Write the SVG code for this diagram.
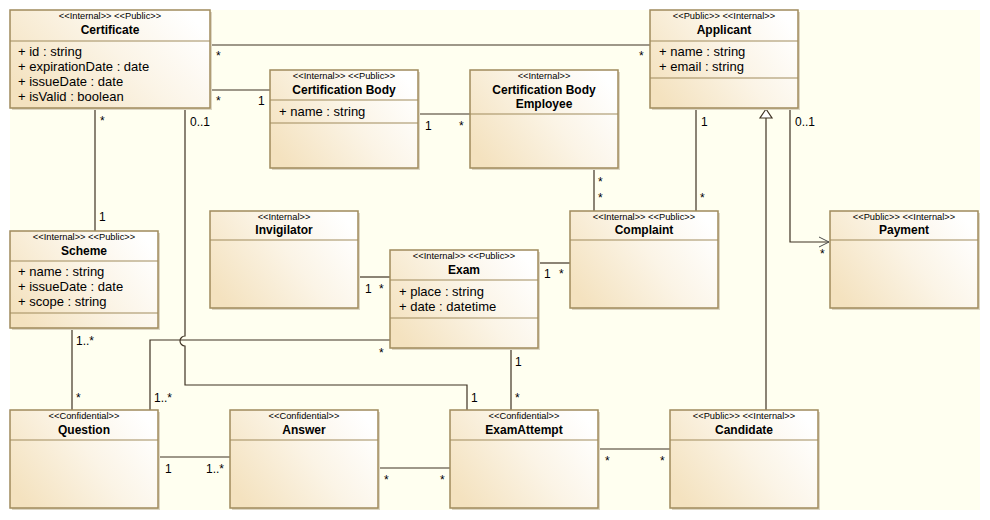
<svg xmlns="http://www.w3.org/2000/svg" width="990" height="520" viewBox="0 0 990 520">
<defs>
<linearGradient id="fill" x1="0" y1="0.75" x2="1" y2="0.25">
<stop offset="0" stop-color="#f4e2bf"/>
<stop offset="0.55" stop-color="#fbf4e6"/>
<stop offset="1" stop-color="#ffffff"/>
</linearGradient>
<marker id="open" markerWidth="14" markerHeight="12" refX="11" refY="6" orient="auto" markerUnits="userSpaceOnUse">
<path d="M1,1 L11,6 L1,11" fill="none" stroke="#4a4a4a" stroke-width="1"/>
</marker>
</defs>
<style>
.sh{fill:#ddd6c2}
.box{fill:url(#fill);stroke:#a08b5c;stroke-width:1.5}
.div{stroke:#a08b5c;stroke-width:1}
.st{font-family:"Liberation Sans",Arial,sans-serif;font-size:9.3px;fill:#000;text-anchor:middle}
.nm{font-family:"Liberation Sans",Arial,sans-serif;font-size:12px;font-weight:bold;fill:#000;text-anchor:middle}
.at{font-family:"Liberation Sans",Arial,sans-serif;font-size:13px;fill:#000}
.lb{font-family:"Liberation Sans",Arial,sans-serif;font-size:12px;fill:#000}
.ln{fill:none;stroke:#3f3223;stroke-width:1.2}
</style>
<rect x="0" y="0" width="990" height="520" fill="#ffffff"/>
<rect x="10" y="10" width="970" height="500" fill="#fffff0"/>

<g id="connectors">
<path class="ln" d="M210,45 H650"/>
<path class="ln" d="M210,90 H270"/>
<path class="ln" d="M420,114 H470"/>
<path class="ln" d="M95,108 V231"/>
<path class="ln" d="M185,108 V336 A5,5 0 0 0 185,346 V385 H467 V410"/>
<path class="ln" d="M150,410 V340 H390"/>
<path class="ln" d="M72,328 V410"/>
<path class="ln" d="M160,457 H230"/>
<path class="ln" d="M380,468 H450"/>
<path class="ln" d="M600,449 H670"/>
<path class="ln" d="M511,348 V410"/>
<path class="ln" d="M360,277 H390"/>
<path class="ln" d="M540,263 H570"/>
<path class="ln" d="M594,168 V211"/>
<path class="ln" d="M696,108 V211"/>
<path class="ln" d="M790,108 V242 H829" marker-end="url(#open)"/>
<path class="ln" d="M766,410 V118"/>
<path d="M766,109 L772,118 L760,118 Z" fill="#ffffff" stroke="#3f3223" stroke-width="1.2"/>
<text class="lb" x="216" y="60">*</text>
<text class="lb" x="639" y="60">*</text>
<text class="lb" x="216" y="105">*</text>
<text class="lb" x="258" y="105">1</text>
<text class="lb" x="425" y="130">1</text>
<text class="lb" x="459" y="130">*</text>
<text class="lb" x="100" y="125">*</text>
<text class="lb" x="99" y="221">1</text>
<text class="lb" x="190" y="126">0..1</text>
<text class="lb" x="471" y="402">1</text>
<text class="lb" x="154" y="402">1..*</text>
<text class="lb" x="379" y="357">*</text>
<text class="lb" x="76" y="345">1..*</text>
<text class="lb" x="76" y="402">*</text>
<text class="lb" x="165" y="473">1</text>
<text class="lb" x="206" y="473">1..*</text>
<text class="lb" x="384" y="484">*</text>
<text class="lb" x="440" y="484">*</text>
<text class="lb" x="605" y="465">*</text>
<text class="lb" x="660" y="465">*</text>
<text class="lb" x="515" y="366">1</text>
<text class="lb" x="515" y="402">*</text>
<text class="lb" x="365" y="293">1</text>
<text class="lb" x="379" y="293">*</text>
<text class="lb" x="544" y="278">1</text>
<text class="lb" x="559" y="278">*</text>
<text class="lb" x="598" y="186">*</text>
<text class="lb" x="598" y="202">*</text>
<text class="lb" x="701" y="126">1</text>
<text class="lb" x="700" y="202">*</text>
<text class="lb" x="795" y="126">0..1</text>
<text class="lb" x="820" y="258">*</text>
</g>

<g id="certificate">
<rect class="sh" x="12" y="12" width="200" height="98"/>
<rect class="box" x="10" y="10" width="200" height="98"/>
<text class="st" x="110" y="19">&lt;&lt;Internal&gt;&gt; &lt;&lt;Public&gt;&gt;</text>
<text class="nm" x="110" y="34">Certificate</text>
<line class="div" x1="10" y1="41" x2="210" y2="41"/>
<text class="at" x="18" y="56">+ id : string</text>
<text class="at" x="18" y="71">+ expirationDate : date</text>
<text class="at" x="18" y="86">+ issueDate : date</text>
<text class="at" x="18" y="101">+ isValid : boolean</text>
</g>

<g id="certification-body">
<rect class="sh" x="272" y="72" width="148" height="98"/>
<rect class="box" x="270" y="70" width="148" height="98"/>
<text class="st" x="344" y="79">&lt;&lt;Internal&gt;&gt; &lt;&lt;Public&gt;&gt;</text>
<text class="nm" x="344" y="94">Certification Body</text>
<line class="div" x1="270" y1="100" x2="418" y2="100"/>
<text class="at" x="279" y="116">+ name : string</text>
<line class="div" x1="270" y1="123" x2="418" y2="123"/>
</g>

<g id="certification-body-employee">
<rect class="sh" x="472" y="72" width="148" height="98"/>
<rect class="box" x="470" y="70" width="148" height="98"/>
<text class="st" x="544" y="79">&lt;&lt;Internal&gt;&gt;</text>
<text class="nm" x="544" y="94">Certification Body</text>
<text class="nm" x="544" y="108">Employee</text>
<line class="div" x1="470" y1="114" x2="618" y2="114"/>
</g>

<g id="applicant">
<rect class="sh" x="652" y="12" width="148" height="98"/>
<rect class="box" x="650" y="10" width="148" height="98"/>
<text class="st" x="724" y="19">&lt;&lt;Public&gt;&gt; &lt;&lt;Internal&gt;&gt;</text>
<text class="nm" x="724" y="34">Applicant</text>
<line class="div" x1="650" y1="41" x2="798" y2="41"/>
<text class="at" x="659" y="56">+ name : string</text>
<text class="at" x="659" y="71">+ email : string</text>
<line class="div" x1="650" y1="78" x2="798" y2="78"/>
</g>

<g id="scheme">
<rect class="sh" x="12" y="233" width="148" height="97"/>
<rect class="box" x="10" y="231" width="148" height="97"/>
<text class="st" x="84" y="240">&lt;&lt;Internal&gt;&gt; &lt;&lt;Public&gt;&gt;</text>
<text class="nm" x="84" y="255">Scheme</text>
<line class="div" x1="10" y1="261" x2="158" y2="261"/>
<text class="at" x="18" y="276">+ name : string</text>
<text class="at" x="18" y="291">+ issueDate : date</text>
<text class="at" x="18" y="306">+ scope : string</text>
<line class="div" x1="10" y1="313" x2="158" y2="313"/>
</g>

<g id="invigilator">
<rect class="sh" x="212" y="213" width="148" height="97"/>
<rect class="box" x="210" y="211" width="148" height="97"/>
<text class="st" x="284" y="220">&lt;&lt;Internal&gt;&gt;</text>
<text class="nm" x="284" y="234">Invigilator</text>
<line class="div" x1="210" y1="240" x2="358" y2="240"/>
</g>

<g id="exam">
<rect class="sh" x="392" y="252" width="148" height="98"/>
<rect class="box" x="390" y="250" width="148" height="98"/>
<text class="st" x="464" y="259">&lt;&lt;Internal&gt;&gt; &lt;&lt;Public&gt;&gt;</text>
<text class="nm" x="464" y="274">Exam</text>
<line class="div" x1="390" y1="280" x2="538" y2="280"/>
<text class="at" x="399" y="296">+ place : string</text>
<text class="at" x="399" y="311">+ date : datetime</text>
<line class="div" x1="390" y1="318" x2="538" y2="318"/>
</g>

<g id="complaint">
<rect class="sh" x="572" y="213" width="148" height="97"/>
<rect class="box" x="570" y="211" width="148" height="97"/>
<text class="st" x="644" y="220">&lt;&lt;Internal&gt;&gt; &lt;&lt;Public&gt;&gt;</text>
<text class="nm" x="644" y="234">Complaint</text>
<line class="div" x1="570" y1="240" x2="718" y2="240"/>
</g>

<g id="payment">
<rect class="sh" x="832" y="213" width="148" height="97"/>
<rect class="box" x="830" y="211" width="148" height="97"/>
<text class="st" x="904" y="220">&lt;&lt;Public&gt;&gt; &lt;&lt;Internal&gt;&gt;</text>
<text class="nm" x="904" y="234">Payment</text>
<line class="div" x1="830" y1="240" x2="978" y2="240"/>
</g>

<g id="question">
<rect class="sh" x="12" y="412" width="148" height="98"/>
<rect class="box" x="10" y="410" width="148" height="98"/>
<text class="st" x="84" y="419">&lt;&lt;Confidential&gt;&gt;</text>
<text class="nm" x="84" y="434">Question</text>
<line class="div" x1="10" y1="440" x2="158" y2="440"/>
</g>

<g id="answer">
<rect class="sh" x="232" y="412" width="148" height="98"/>
<rect class="box" x="230" y="410" width="148" height="98"/>
<text class="st" x="304" y="419">&lt;&lt;Confidential&gt;&gt;</text>
<text class="nm" x="304" y="434">Answer</text>
<line class="div" x1="230" y1="440" x2="378" y2="440"/>
</g>

<g id="exam-attempt">
<rect class="sh" x="452" y="412" width="148" height="98"/>
<rect class="box" x="450" y="410" width="148" height="98"/>
<text class="st" x="524" y="419">&lt;&lt;Confidential&gt;&gt;</text>
<text class="nm" x="524" y="434">ExamAttempt</text>
<line class="div" x1="450" y1="440" x2="598" y2="440"/>
</g>

<g id="candidate">
<rect class="sh" x="672" y="412" width="148" height="98"/>
<rect class="box" x="670" y="410" width="148" height="98"/>
<text class="st" x="744" y="419">&lt;&lt;Public&gt;&gt; &lt;&lt;Internal&gt;&gt;</text>
<text class="nm" x="744" y="434">Candidate</text>
<line class="div" x1="670" y1="440" x2="818" y2="440"/>
</g>
</svg>
